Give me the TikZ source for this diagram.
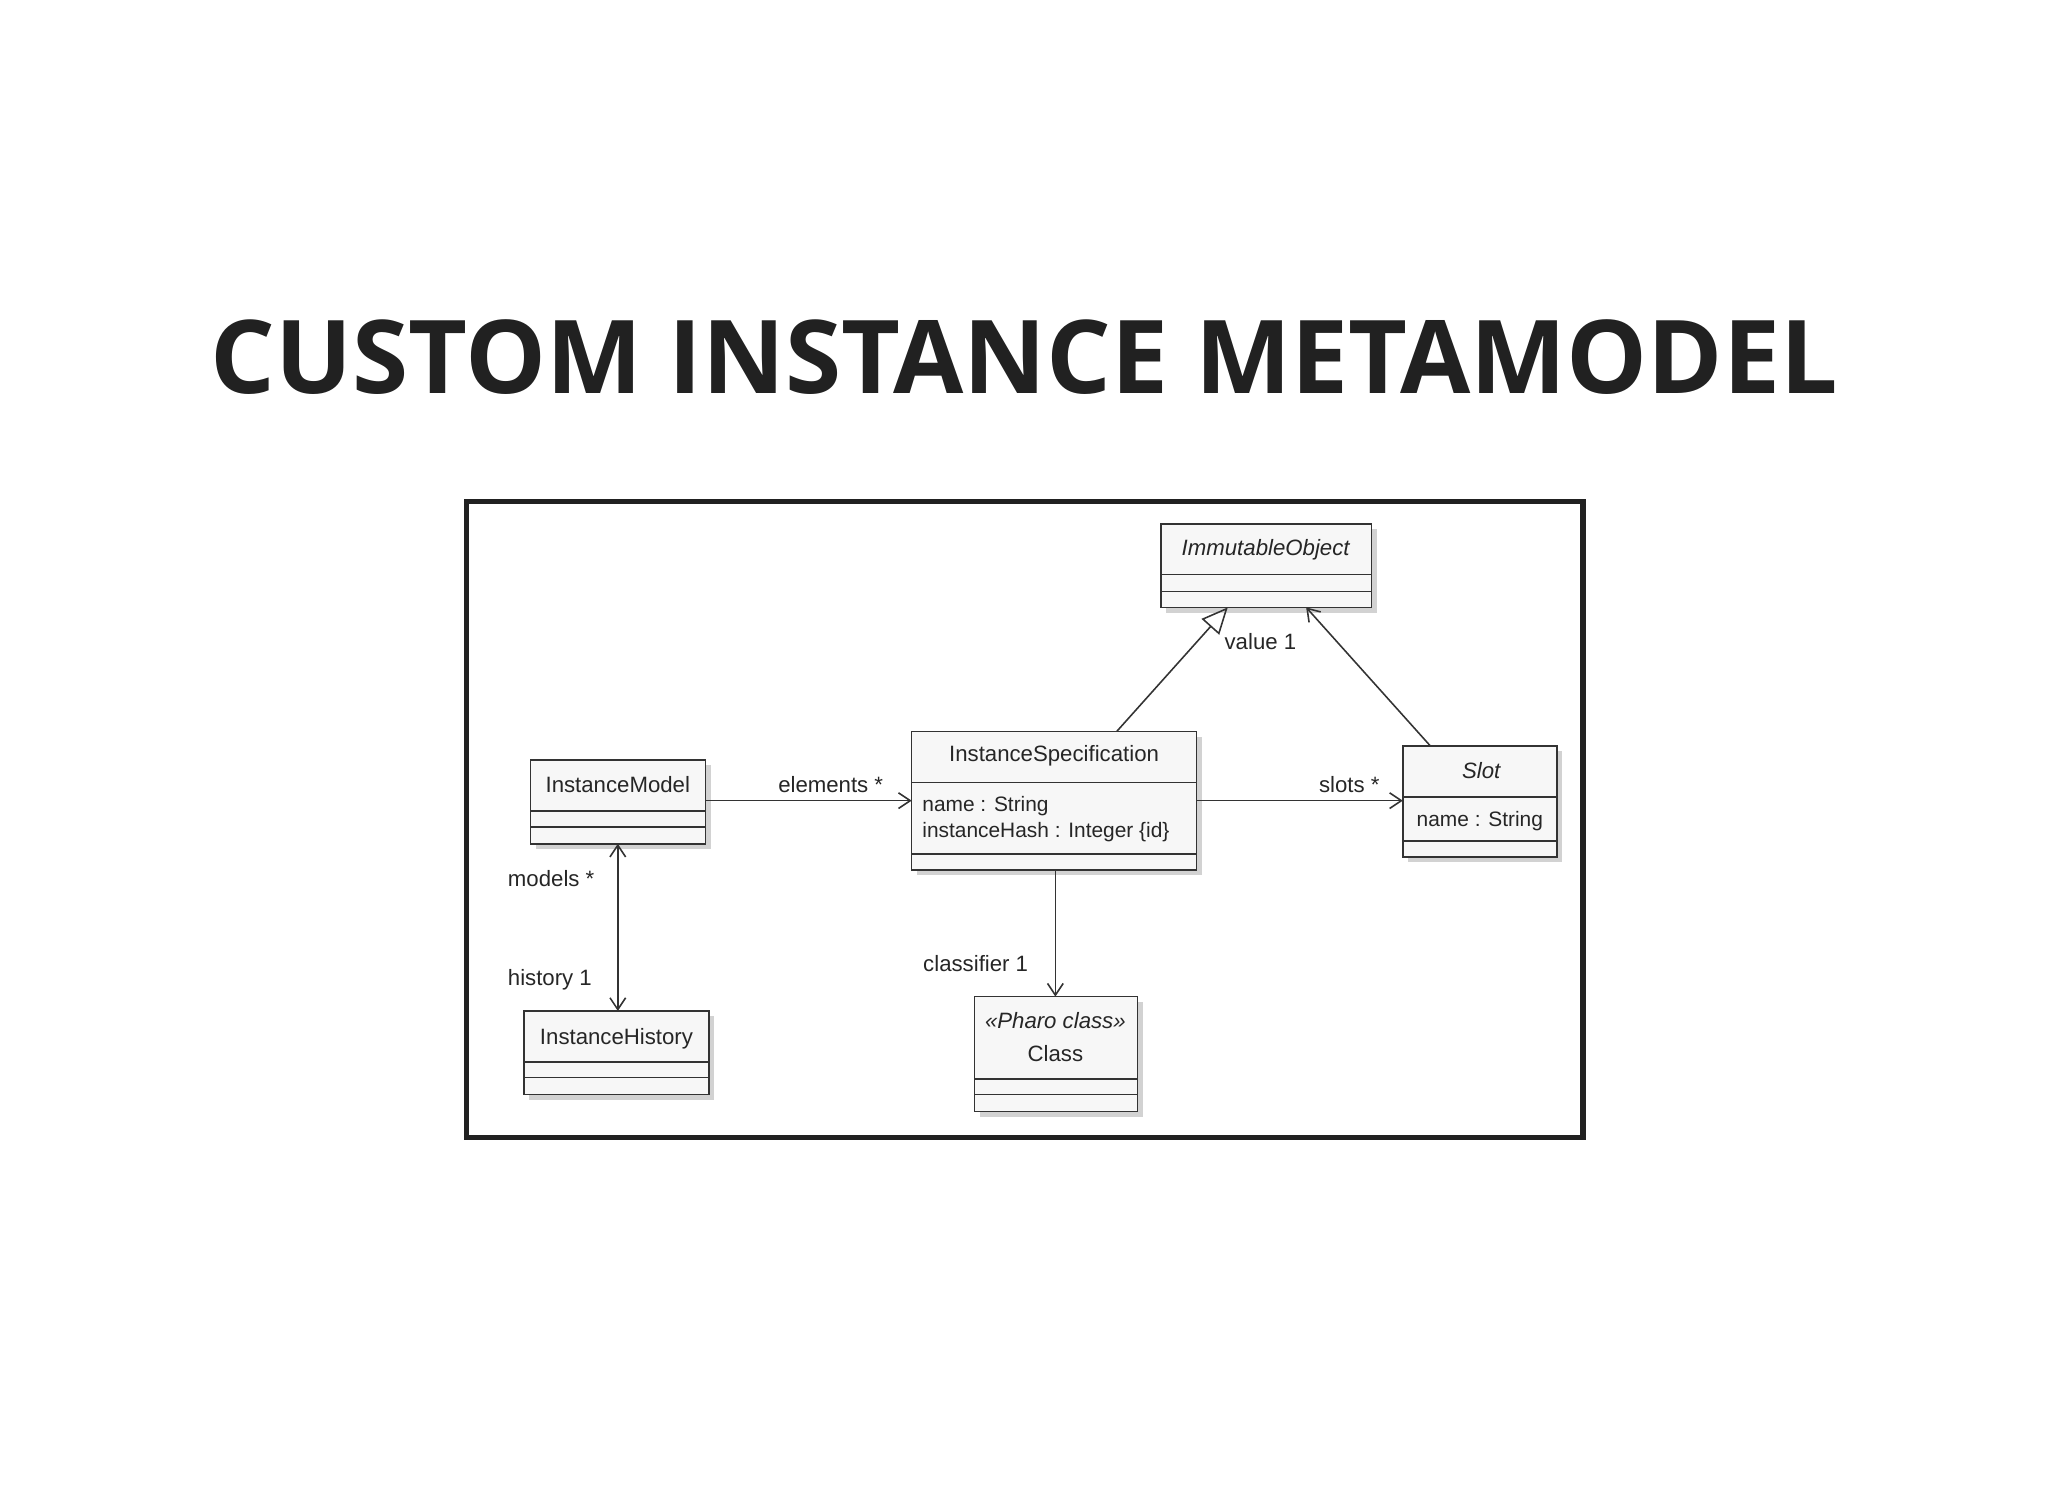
\documentclass[tikz,border=0pt]{standalone}
\usepackage{fontspec}
\setmainfont{Liberation Sans}
\newfontfamily\titlefont{Open Sans}
\usetikzlibrary{shadows,arrows.meta}
\begin{document}
\begin{tikzpicture}[x=1pt,y=-1pt,
  cls/.style={draw=black!80,line width=1.2pt,fill=black!3,drop shadow={shadow xshift=4pt,shadow yshift=-4pt,fill=black!35},inner sep=0},
  lbl/.style={font=\fontsize{17}{19}\selectfont,text=black!85,inner sep=1pt},
  conn/.style={draw=black!80,line width=1.2pt},
  oarr/.style={-{Straight Barb[length=9pt,width=12pt]}},
  dia/.style={{Diamond[length=15pt,width=10pt]}-}]
\useasboundingbox (0,0) rectangle (1568,1143);
\node[font=\titlefont\bfseries\fontsize{78}{80}\selectfont,text=black!87] (title) at (784,273) {CUSTOM INSTANCE METAMODEL};
\draw[line width=4pt,black!87] (357,384) rectangle (1212,871);
% classes
\newcommand\clsbox[5]{\node[cls,minimum width=#4-#2,minimum height=#5-#3] (#1) at ({(#2+#4)/2},{(#3+#5)/2}) {};}
\clsbox{imm}{889}{401}{1050}{465}
\clsbox{im}{406}{582}{540}{646}
\clsbox{is}{698}{560}{916}{666}
\clsbox{slot}{1074}{571}{1192}{656}
\clsbox{ih}{401}{774}{543}{838}
\clsbox{cl}{746}{763}{871}{851}
\begin{scope}[conn]
\draw (889,440)--(1050,440) (889,453)--(1050,453);
\draw (406,621)--(540,621) (406,633)--(540,633);
\draw (698,599)--(916,599) (698,654)--(916,654);
\draw (1074,610)--(1192,610) (1074,644)--(1192,644);
\draw (401,813)--(543,813) (401,825)--(543,825);
\draw (746,826)--(871,826) (746,838)--(871,838);
\end{scope}
\node[lbl,font=\itshape\fontsize{17}{19}\selectfont] (t1) at (969,421) {ImmutableObject};
\node[lbl] (t2) at (473,601) {InstanceModel};
\node[lbl] (t3) at (807,579) {InstanceSpecification};
\node[lbl,anchor=west,align=left,font=\fontsize{16}{20}\selectfont] (t4) at (705,627) {name : String\\instanceHash : Integer \{id\}};
\node[lbl,font=\itshape\fontsize{17}{19}\selectfont] (t5) at (1134,590) {Slot};
\node[lbl,font=\fontsize{16}{19}\selectfont] (t6) at (1133,629) {name : String};
\node[lbl] (t7) at (472,795) {InstanceHistory};
\node[lbl,align=center,font=\fontsize{17}{25}\selectfont] (t8) at (808,794) {\textit{«Pharo class»}\\Class};
% connectors
\coordinate (a1) at (540,613); \coordinate (a2) at (698,613);
\draw[conn,dia,oarr] (a1)--(a2);
\coordinate (b1) at (916,613); \coordinate (b2) at (1074,613);
\draw[conn,dia,oarr] (b1)--(b2);
\coordinate (c1) at (855,560); \coordinate (c2) at (940,465);
\draw[conn,-{Triangle[open,length=20pt,width=18pt]}] (c1)--(c2);
\coordinate (d1) at (1095,571); \coordinate (d2) at (1000,465);
\draw[conn,oarr] (d1)--(d2);
\coordinate (e1) at (473,646); \coordinate (e2) at (473,774);
\draw[conn,{Straight Barb[length=9pt,width=12pt]}-{Straight Barb[length=9pt,width=12pt]}] (e1)--(e2);
\coordinate (f1) at (808,666); \coordinate (f2) at (808,763);
\draw[conn,oarr] (f1)--(f2);
\node[lbl] (l1) at (636,601) {elements *};
\node[lbl] (l2) at (1033,601) {slots *};
\node[lbl] (l3) at (965,491) {value 1};
\node[lbl] (l4) at (422,673) {models *};
\node[lbl] (l5) at (421,750) {history 1};
\node[lbl] (l6) at (747,738) {classifier 1};
\end{tikzpicture}
\end{document}
